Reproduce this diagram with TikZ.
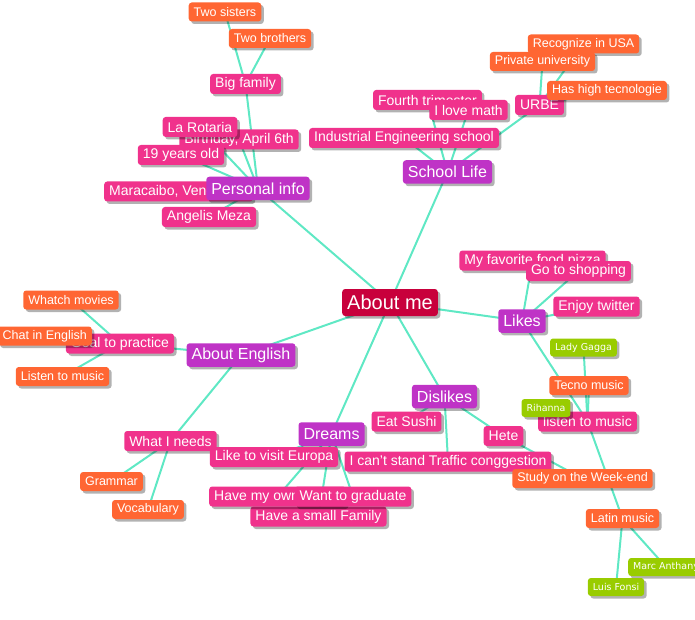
\documentclass[tikz,border=0pt]{standalone}
\usepackage{fontspec}
\setmainfont{Liberation Sans}
\newfontfamily\greenfont{DejaVu Sans}
\usetikzlibrary{shadows}
\definecolor{mmpink}{HTML}{F0328C}
\definecolor{mmpurple}{HTML}{BF33C6}
\definecolor{mmorange}{HTML}{FF6633}
\definecolor{mmgreen}{HTML}{99CC00}
\definecolor{mmroot}{HTML}{C8003C}
\definecolor{mmline}{HTML}{5FE8C4}
\pgfdeclarelayer{edges}
\pgfsetlayers{edges,main}
\tikzset{
  box/.style={rounded corners=3pt, text=white, inner xsep=5pt, inner ysep=0pt,
    drop shadow={shadow xshift=2.5pt, shadow yshift=-2.5pt, opacity=0.3, fill=black}},
  pinkbox/.style={box, fill=mmpink, font=\fontsize{14}{16}\selectfont, minimum height=20pt},
  purplebox/.style={box, fill=mmpurple, font=\fontsize{16}{18}\selectfont, minimum height=23.5pt},
  orangebox/.style={box, fill=mmorange, font=\fontsize{12.5}{14}\selectfont, minimum height=19pt},
  greenbox/.style={box, fill=mmgreen, font=\greenfont\fontsize{9.5}{11}\selectfont, minimum height=18pt},
  rootbox/.style={box, fill=mmroot, font=\fontsize{20}{22}\selectfont, minimum height=27pt},
  link/.style={draw=mmline, line width=2pt}
}
\begin{document}
\begin{tikzpicture}[x=1pt,y=-1pt]
\useasboundingbox (0,0) rectangle (695,620);
% Personal info cluster
\node[orangebox] (sisters) at (225,12) {Two sisters};
\node[orangebox] (brothers) at (270,38.5) {Two brothers};
\node[pinkbox] (bigfamily) at (245.5,84) {Big family};
\node[pinkbox] (birthday) at (239,139.5) {Birthday, April 6th};
\node[pinkbox] (rotaria) at (200,127) {La Rotaria};
\node[pinkbox] (years) at (181,155) {19 years old};
\node[pinkbox, anchor=west] (maracaibo) at (104,191.5) {Maracaibo, Venezuela};
\node[pinkbox] (angelis) at (209,217) {Angelis Meza};
\node[purplebox] (personal) at (258,188.5) {Personal info};
% School life cluster
\node[orangebox] (recognize) at (583.5,44) {Recognize in USA};
\node[orangebox] (private) at (542.5,61.5) {Private university};
\node[pinkbox] (urbe) at (539.5,105) {URBE};
\node[orangebox] (hightec) at (607,90.5) {Has high tecnologie};
\node[pinkbox] (fourth) at (427.5,100) {Fourth trimester};
\node[pinkbox] (lovemath) at (468.5,110) {I love math};
\node[pinkbox] (industrial) at (404,138) {Industrial Engineering school};
\node[purplebox] (school) at (447.5,172) {School Life};
% Likes cluster
\node[pinkbox] (pizza) at (532.5,260.5) {My favorite food pizza};
\node[pinkbox] (shopping) at (578.5,271) {Go to shopping};
\node[pinkbox] (twitter) at (596.5,306.5) {Enjoy twitter};
\node[purplebox] (likes) at (522,321) {Likes};
\node[greenbox] (lady) at (583.5,347.5) {Lady Gagga};
\node[orangebox] (tecno) at (589,385.5) {Tecno music};
\node[pinkbox] (listen) at (587.5,421.5) {listen to music};
\node[greenbox] (rihanna) at (546,408) {Rihanna};
\node[orangebox] (latin) at (622.5,518.5) {Latin music};
\node[greenbox, anchor=west] (marc) at (628,567) {Marc Anthany};
\node[greenbox] (fonsi) at (616,587) {Luis Fonsi};
% Dislikes cluster
\node[purplebox] (dislikes) at (444.5,396.5) {Dislikes};
\node[pinkbox] (sushi) at (406.5,421.5) {Eat Sushi};
\node[pinkbox] (hete) at (503.5,436) {Hete};
\node[pinkbox] (traffic) at (448,461.5) {I can't stand Traffic conggestion};
\node[orangebox] (study) at (582.5,478.5) {Study on the Week-end};
% About English cluster
\node[orangebox] (whatch) at (71,300) {Whatch movies};
\node[pinkbox] (goal) at (120,343.5) {Goal to practice};
\node[orangebox, anchor=east] (chat) at (92,336) {Chat in English};
\node[orangebox] (listenm) at (62.5,376.5) {Listen to music};
\node[purplebox] (english) at (241,355) {About English};
\node[pinkbox] (needs) at (170.5,441) {What I needs};
\node[orangebox] (grammar) at (111.5,481.5) {Grammar};
\node[orangebox] (vocab) at (148,509.5) {Vocabulary};
% Dreams cluster
\node[purplebox] (dreams) at (331.5,434) {Dreams};
\node[pinkbox] (europa) at (274,457) {Like to visit Europa};
\node[pinkbox] (smallfam) at (318.5,516.5) {Have a small Family};
\node[pinkbox, anchor=west] (house) at (209,496.5) {Have my own house};
\node[pinkbox] (graduate) at (353,496.5) {Want to graduate};
% Root
\node[rootbox] (aboutme) at (390,302.5) {About me};

\begin{pgfonlayer}{edges}
\foreach \a/\b in {aboutme/personal, aboutme/school, aboutme/likes, aboutme/english, aboutme/dreams, aboutme/dislikes,
  personal/bigfamily, personal/rotaria, personal/birthday, personal/years, personal/maracaibo, personal/angelis,
  bigfamily/sisters, bigfamily/brothers,
  school/industrial, school/fourth, school/lovemath, school/urbe,
  urbe/private, urbe/recognize, urbe/hightec,
  likes/pizza, likes/shopping, likes/twitter, likes/listen,
  listen/lady, listen/tecno, listen/rihanna, listen/latin,
  latin/fonsi, latin/marc,
  english/goal, english/needs,
  goal/whatch, goal/chat, goal/listenm,
  needs/grammar, needs/vocab,
  dreams/europa, dreams/house, dreams/graduate, dreams/smallfam,
  dislikes/sushi, dislikes/traffic, dislikes/hete,
  hete/study}
  \draw[link] (\a.center) -- (\b.center);
\end{pgfonlayer}
\end{tikzpicture}
\end{document}
